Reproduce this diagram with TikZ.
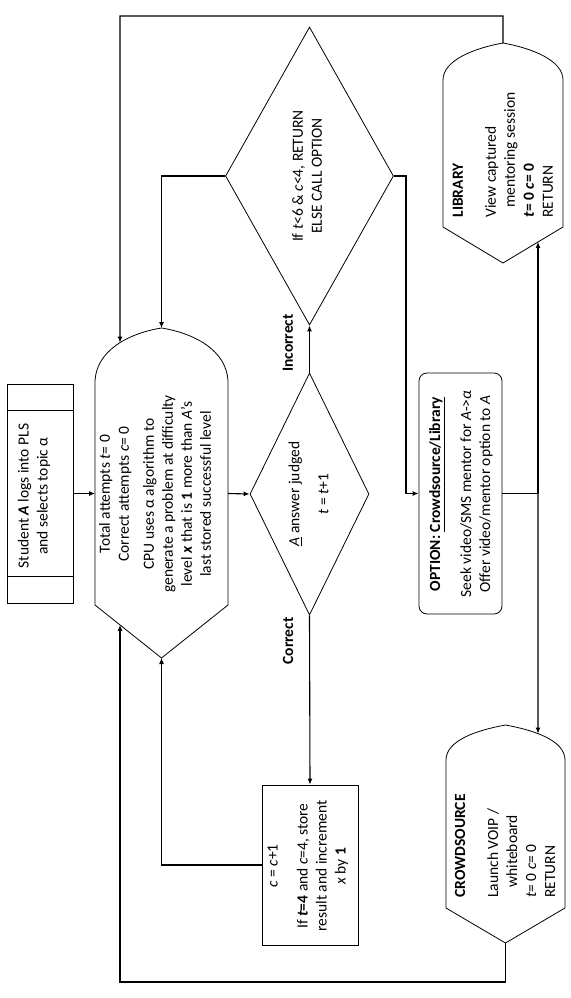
\documentclass[tikz,border=0pt]{standalone}
\usepackage{fontspec}
\setmainfont{Carlito}
\usetikzlibrary{shapes.geometric,arrows.meta,intersections}
\begin{document}
\begin{tikzpicture}[x=1pt,y=-1pt,
  shapeline/.style={draw=black,line width=0.8pt},
  conn/.style={draw=black,line width=1.1pt},
  arr/.style={conn,-{Latex[length=6pt,width=5pt]}},
  txt/.style={rotate=90,align=center,inner sep=0pt,font=\fontsize{15.5}{19}\selectfont},
  txtl/.style={txt,align=left},
  lbl/.style={rotate=90,inner sep=0pt,font=\fontsize{15.5}{19}\selectfont\bfseries},
  dia/.style={shapeline,diamond,inner sep=0pt},
  sbox/.style={shapeline,rectangle,inner sep=0pt}]
\useasboundingbox (0,0) rectangle (570,998);

% start box
\node[sbox,minimum width=66pt,minimum height=219pt] (start) at (40,493.5) {};
\draw[shapeline] ([yshift=-27pt]start.north west) -- ([yshift=-27pt]start.north east);
\draw[shapeline] ([yshift=27pt]start.south west) -- ([yshift=27pt]start.south east);
\node[txt] (startT) at (34,496) {Student \textbf{\textit{A}} logs into PLS\\and selects topic α};

% main hexagon
\draw[shapeline,name path=hex] (95,383) .. controls (95,350) and (130,333) .. (161.5,328)
  .. controls (193,333) and (228,350) .. (228,383) -- (228,605) -- (161.5,658) -- (95,605) -- cycle;
\coordinate (hexTop) at (161.5,328);
\coordinate (hexBot) at (161.5,658);
\coordinate (hexW) at (95,493.5);
\coordinate (hexE) at (228,493.5);
\node[txt] (hexT) at (155,494) {Total attempts \textit{t}= 0\\Correct attempts \textit{c}= 0\\[6pt]CPU uses α algorithm to\\generate a problem at difficulty\\level \textbf{\textit{x}} that is \textbf{1} more than \textit{A}’s\\last stored successful level};

% decision 1
\node[dia,minimum width=119pt,minimum height=242pt] (d1) at (309.5,494) {};
\node[txt] (d1T) at (308.5,494) {\underline{\textit{A}} answer judged\\[10pt]\textit{t} = \textit{t}+1};

% decision 2
\node[dia,minimum width=168pt,minimum height=298pt] (d2) at (309.5,176) {};
\node[txt] (d2T) at (307,176) {If \textit{t}<6 \& \textit{c}<4, RETURN\\ELSE CALL OPTION};

% c box
\node[sbox,minimum width=96pt,minimum height=160pt] (cb) at (310,865) {};
\node[txt] (cbT) at (308,866) {\textit{c} = \textit{c}+1\\[11pt]If \textbf{\textit{t}=4} and \textit{c}=4, store\\result and increment\\\textit{x} by \textbf{1}};

% option box
\node[sbox,rounded corners=8pt,minimum width=83pt,minimum height=241pt] (opt) at (460.5,493.5) {};
\node[txt] (optT) at (461,494) {\textbf{OPTION: \underline{Crowdsource/Library}}\\[12pt]Seek video/SMS mentor for \textit{A}->\textit{α}\\Offer video/mentor option to \textit{A}};

% library
\draw[shapeline,name path=lib] (443,80) .. controls (443,60) and (475,48) .. (503,43)
  .. controls (531,48) and (563,60) .. (563,80) -- (563,227) -- (503,263) -- (443,227) -- cycle;
\coordinate (libTop) at (503,43);
\node[txtl] (libT) at (503,155) {\textbf{LIBRARY}\\[14pt]View captured\\\hspace*{10pt}mentoring session\\\textbf{\textit{t}= 0 \textit{c}= 0}\\RETURN};

% crowdsource
\draw[shapeline,name path=crowd] (446,760) .. controls (446,740) and (478,730) .. (505.5,725)
  .. controls (533,730) and (565,740) .. (565,760) -- (565,908) -- (505.5,943) -- (446,908) -- cycle;
\coordinate (crBot) at (505.5,943);
\node[txtl] (crT) at (505,846) {\textbf{CROWDSOURCE}\\[14pt]Launch VOIP /\\\hspace*{10pt}whiteboard\\\textit{t}= 0 \textit{c}= 0\\RETURN};

% labels
\node[lbl] (inc) at (288,343) {Incorrect};
\node[lbl] (cor) at (288,641) {Correct};

% intersections
\path[name path=vL] (120,300) -- (120,700);
\path[name intersections={of=vL and hex,sort by=vL,by={hexA,hexB}}];
\path[name path=vR] (538,0) -- (538,998);
\path[name intersections={of=vR and lib,sort by=vR,by={libA,libB}}];
\path[name intersections={of=vR and crowd,sort by=vR,by={crA,crB}}];

% connectors
\draw[arr] (start.east) -- (hexW);
\draw[arr] (hexE) -- (d1.west);
\draw[arr] (d1.north) -- (d2.south);
\draw[arr] (d1.south) -- (cb.north);
\draw[arr] (cb.west) -| (hexBot);
\draw[arr] (d2.west) -| (hexTop);
\coordinate (bendO) at (406,493.5);
\draw[arr] (d2.east) -| (bendO) -- (opt.west);
\coordinate (J) at (538,493.5);
\draw[conn] (opt.east) -- (J);
\draw[arr] (J) -- (libB);
\draw[arr] (J) -- (crA);
\coordinate (topR) at (503,16);
\coordinate (topL) at (120,16);
\draw[arr] (libTop) -- (topR) -- (topL) -- (hexA);
\coordinate (botR) at (505.5,982);
\coordinate (botL) at (120,982);
\draw[arr] (crBot) -- (botR) -- (botL) -- (hexB);
\end{tikzpicture}
\end{document}
